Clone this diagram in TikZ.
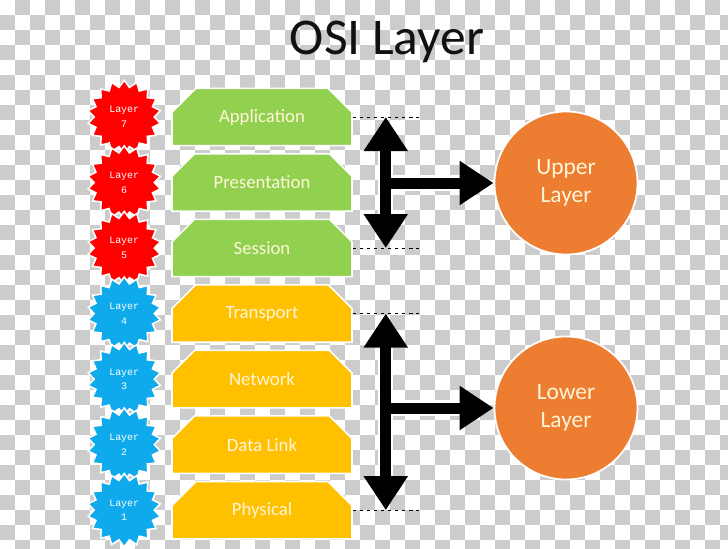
\documentclass[tikz,border=0pt]{standalone}
\usepackage{fontspec}
\setmainfont{Carlito}
\newfontfamily\burstfont{Liberation Mono}
\usepackage{tikz}
\usetikzlibrary{arrows.meta, positioning, shapes.geometric, shapes.misc}
\definecolor{appgreen}{HTML}{92D050}
\definecolor{netgold}{HTML}{FFC000}
\definecolor{burstred}{HTML}{FF0000}
\definecolor{burstblue}{HTML}{0FAAEC}
\definecolor{ringorange}{HTML}{ED7D31}
\definecolor{cream}{HTML}{FFF6D8}
\definecolor{checkgray}{HTML}{CCCCCC}
\definecolor{ink}{HTML}{111111}
\tikzset{
  % Transparency checks behind the drawing
  checker/.style={fill=checkgray},
  % Layer boxes
  layerbox/.style={
    chamfered rectangle, chamfered rectangle corners={north west, north east},
    chamfered rectangle xsep=0.39cm, chamfered rectangle ysep=0.48cm,
    fill=#1, draw=white, line width=1.3pt,
    minimum width=5.4cm, minimum height=1.72cm, inner sep=0pt,
    text=cream, font=\fontsize{16}{18}\selectfont,
  },
  layerbox/.default=appgreen,
  % Layer numbers
  burst/.style={
    star, star points=18, star point ratio=1.22,
    fill=#1, draw=white, line width=1.3pt,
    minimum size=2.2cm, inner sep=0pt,
    text=white, align=center, font=\burstfont\fontsize{8.5}{12.5}\selectfont,
  },
  % Grouping circles
  group/.style={
    circle, fill=ringorange, draw=white, line width=1.5pt,
    minimum size=4.29cm, align=center,
    text=cream, font=\fontsize{20}{24}\selectfont,
  },
  % Connectors
  guide/.style={dashed, line width=0.6pt, black},
  fat/.style={
    line width=0.33cm, black,
    >={Triangle[width=1.26cm, length=1.02cm]},
  },
  glow/.style={fat, white, line width=0.46cm,
    >={Triangle[width=1.26cm, length=1.02cm, line width=2.5pt]}},
  title/.style={font=\fontsize{44}{50}\selectfont, text=ink},
}

\begin{document}
\begin{tikzpicture}[x=0.03cm, y=-0.03cm]
\useasboundingbox (0,0) rectangle (728,548);
\clip (0,0) rectangle (728,548);

% background checks
\foreach \cx in {0,30,...,720}
  \foreach \cy in {0,30,...,540} {
    \fill[checker] (\cx+15,\cy) rectangle ++(15,15);
    \fill[checker] (\cx,\cy+15) rectangle ++(15,15);
  }

% ====================================================================
% Title
% ====================================================================
\node[title] (title) at (387,42) {OSI Layer};

% ====================================================================
% Upper layers
% ====================================================================
\node[layerbox=appgreen] (app) at (262,117) {Application};
\node[layerbox=appgreen, below=0.2cm of app] (pres) {Presentation};
\node[layerbox=appgreen, below=0.2cm of pres] (sess) {Session};

% ====================================================================
% Lower layers
% ====================================================================
\node[layerbox=netgold, below=0.2cm of sess] (trans) {Transport};
\node[layerbox=netgold, below=0.2cm of trans] (net) {Network};
\node[layerbox=netgold, below=0.2cm of net] (link) {Data Link};
\node[layerbox=netgold, below=0.2cm of link] (phys) {Physical};

% Layer numbers
\foreach \lay/\num/\col in {app/7/burstred, pres/6/burstred, sess/5/burstred,
    trans/4/burstblue, net/3/burstblue, link/2/burstblue, phys/1/burstblue} {
  \node[burst=\col] (l\num) at ([xshift=-1.41cm]\lay.west) {Layer\\\num};
}

% ====================================================================
% Groups
% ====================================================================
\node[group] (upper) at (566,183) {Upper\\Layer};
\node[group] (lower) at (566,408) {Lower\\Layer};

% Guide lines
\foreach \lay in {app, sess, trans, phys} {
  \coordinate (\lay-mid) at ([xshift=0.99cm]\lay.east);
  \coordinate (\lay-end) at ([xshift=1.98cm]\lay.east);
  \draw[guide] (\lay.east) -- (\lay-end);
}

% Span arrows: white halo first, then the black arrows on top
\draw[glow, <->] (app-mid) -- (sess-mid);
\draw[glow, ->] (app-mid |- upper.west) -- (upper.west);
\draw[glow, <->] (trans-mid) -- (phys-mid);
\draw[glow, ->] (trans-mid |- lower.west) -- (lower.west);

\draw[fat, <->] (app-mid) -- (sess-mid);
\draw[fat, ->] (app-mid |- upper.west) -- (upper.west);
\draw[fat, <->] (trans-mid) -- (phys-mid);
\draw[fat, ->] (trans-mid |- lower.west) -- (lower.west);

\end{tikzpicture}
\end{document}
